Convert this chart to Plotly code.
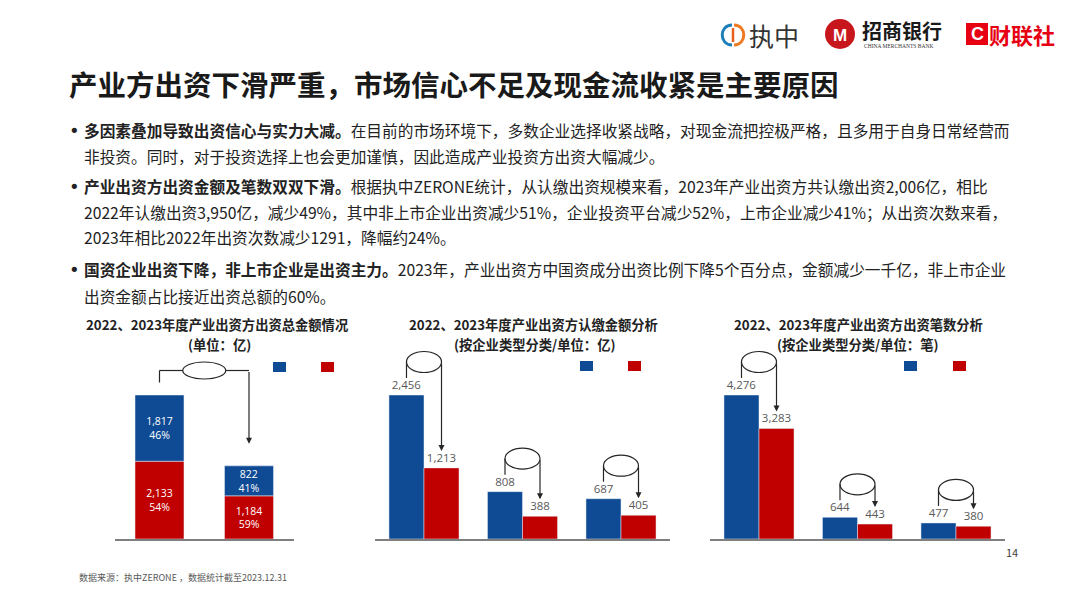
import plotly.graph_objects as go

W, H = 1080, 607

# ---------------- data ----------------
years = ["2022年", "2023年"]
state_amount = [1817, 822]        # blue segment (国资成分)
nonstate_amount = [2133, 1184]    # red segment
types = ["非上市企业", "企业投资平台", "上市企业"]
amount_2022 = [2456, 808, 687]
amount_2023 = [1213, 388, 405]
count_2022 = [4276, 644, 477]
count_2023 = [3283, 443, 380]

BLUE = "#0F4A94"
RED = "#C00000"
LC = "#262626"
CJK = "Noto Sans CJK SC"
NUM = "Open Sans"

totals = [a + b for a, b in zip(state_amount, nonstate_amount)]

# ---------------- geometry helpers ----------------
BASE_PX, TOP_PX = 539, 395
CH = {
    1: dict(x0=114.75, x1=293.75, n=len(years), vmax=max(totals)),
    2: dict(x0=374.75, x1=670.25, n=len(types), vmax=max(amount_2022 + amount_2023)),
    3: dict(x0=709.75, x1=1005.25, n=len(types), vmax=max(count_2022 + count_2023)),
}
GW = 0.3555   # width of each grouped bar (category units)
SW = 0.547    # width of stacked bar


def xp(px):
    return px / W


def yp(py):
    return 1 - py / H


def cat_px(c, i, off=0.0):
    g = CH[c]
    w = (g["x1"] - g["x0"]) / g["n"]
    return g["x0"] + (i + 0.5 + off) * w


def val_px(c, v):
    return BASE_PX - v / CH[c]["vmax"] * (BASE_PX - TOP_PX)


fig = go.Figure()

# chart 1: stacked
pct_n = [f"{v:,}<br>{round(v / t * 100)}%" for v, t in zip(nonstate_amount, totals)]
pct_s = [f"{v:,}<br>{round(v / t * 100)}%" for v, t in zip(state_amount, totals)]
fig.add_trace(go.Bar(x=years, y=nonstate_amount, base=[0] * len(years), width=SW, offset=-SW / 2,
                     marker_color=RED, text=pct_n, texttemplate="%{text}", textposition="inside",
                     insidetextanchor="middle", textangle=0,
                     textfont=dict(color="white", size=10.5, family=NUM),
                     xaxis="x", yaxis="y", name="非国资"))
fig.add_trace(go.Bar(x=years, y=state_amount, base=nonstate_amount, width=SW, offset=-SW / 2,
                     marker_color=BLUE, text=pct_s, texttemplate="%{text}", textposition="inside",
                     insidetextanchor="middle", textangle=0,
                     textfont=dict(color="white", size=10.5, family=NUM),
                     xaxis="x", yaxis="y", name="国资"))

# charts 2 & 3: grouped
for ax, a, b in [("2", amount_2022, amount_2023), ("3", count_2022, count_2023)]:
    for vals, col, off, nm in [(a, BLUE, -GW, "2022年"), (b, RED, 0, "2023年")]:
        fig.add_trace(go.Bar(x=types, y=vals, width=GW, offset=off, marker_color=col,
                             text=[f"{v:,}" for v in vals], texttemplate="%{text}",
                             textposition="outside", cliponaxis=False,
                             textfont=dict(color="#595959", size=11.5, family=NUM),
                             xaxis="x" + ax, yaxis="y" + ax, name=nm))

ydom = [yp(BASE_PX), yp(TOP_PX)]
axis_common = dict(showticklabels=False, ticks="", showgrid=False, zeroline=False,
                   showline=True, linecolor="#7F7F7F", linewidth=1.5, fixedrange=True)
layout_axes = {}
for c in (1, 2, 3):
    sfx = "" if c == 1 else str(c)
    g = CH[c]
    layout_axes["xaxis" + sfx] = dict(domain=[xp(g["x0"]), xp(g["x1"])], anchor="y" + sfx,
                                      range=[-0.5, g["n"] - 0.5], **axis_common)
    layout_axes["yaxis" + sfx] = dict(domain=ydom, anchor="x" + sfx, range=[0, g["vmax"]],
                                      visible=False, fixedrange=True)

shapes = []
annotations = []


def line(x0, y0, x1, y1, color=LC, width=1.2):
    shapes.append(dict(type="line", xref="paper", yref="paper", x0=xp(x0), y0=yp(y0),
                       x1=xp(x1), y1=yp(y1), line=dict(color=color, width=width)))


def ellipse(cx, cy, w, h):
    shapes.append(dict(type="circle", xref="paper", yref="paper", x0=xp(cx - w / 2), x1=xp(cx + w / 2),
                       y0=yp(cy + h / 2), y1=yp(cy - h / 2), line=dict(color=LC, width=1.2),
                       fillcolor="rgba(0,0,0,0)"))


def arrow(x, ytip, ytail):
    annotations.append(dict(x=xp(x), y=yp(ytip), xref="paper", yref="paper", text="", showarrow=True,
                            ax=0, ay=ytail - ytip, arrowhead=2, arrowsize=1, arrowwidth=1.2,
                            arrowcolor=LC, standoff=0))


def rect(x0, y0, x1, y1, color):
    shapes.append(dict(type="rect", xref="paper", yref="paper", x0=xp(x0), x1=xp(x1),
                       y0=yp(y1), y1=yp(y0), fillcolor=color, line=dict(width=0)))


def text(x, y, s, size, color="#222222", family=CJK, xanchor="left", **kw):
    annotations.append(dict(x=xp(x), y=yp(y), xref="paper", yref="paper", text=s, showarrow=False,
                            xanchor=xanchor, yanchor="middle", font=dict(size=size, color=color, family=family), **kw))


# chart 1 bracket
x1c, x2c = cat_px(1, 0), cat_px(1, 1)
t1, t2 = val_px(1, totals[0]), val_px(1, totals[1])
hy = t1 - 24.5
mx = (x1c + x2c) / 2
ellipse(mx, hy, 43, 17)
line(x1c, hy, mx - 21.5, hy)
line(mx + 21.5, hy, x2c, hy)
line(x1c, hy, x1c, hy + 12)
arrow(x2c, t2 - 22, hy)

# charts 2 & 3 loops
for c, a, b in [(2, amount_2022, amount_2023), (3, count_2022, count_2023)]:
    for i in range(len(a)):
        bx = cat_px(c, i, -GW / 2)
        rx = cat_px(c, i, GW / 2)
        by = val_px(c, a[i])
        ry = val_px(c, b[i])
        ey = by - 33
        ellipse((bx + rx) / 2, ey, rx - bx, 21)
        line(bx, ey, bx, by - 17)
        arrow(rx, ry - 17, ey)

# legend squares (no labels, as in reference)
for bx0, rx0, y0 in [(273, 321, 362), (580, 628, 361), (904, 953, 361)]:
    rect(bx0, y0, bx0 + 13, y0 + 10, BLUE)
    rect(rx0, y0, rx0 + 13, y0 + 10, RED)

# chart titles (two lines each)
for cx1, cx2, l1, l2 in [
    (217, 219, "2022、2023年度产业出资方出资总金额情况", "(单位：亿)"),
    (533, 534, "2022、2023年度产业出资方认缴金额分析", "(按企业类型分类/单位：亿)"),
    (858, 857, "2022、2023年度产业出资方出资笔数分析", "(按企业类型分类/单位：笔)"),
]:
    text(cx1, 325, f"<b>{l1}</b>", 13.3, xanchor="center")
    text(cx2, 344, f"<b>{l2}</b>", 13.3, xanchor="center")

# main title
text(67, 84, "<b>产业方出资下滑严重，市场信心不足及现金流收紧是主要原因</b>", 28.5, color="#1A1A1A")

# bullet text
lines = [
    (130, True, "<b>多因素叠加导致出资信心与实力大减。</b>在目前的市场环境下，多数企业选择收紧战略，对现金流把控极严格，且多用于自身日常经营而"),
    (156, False, "非投资。同时，对于投资选择上也会更加谨慎，因此造成产业投资方出资大幅减少。"),
    (186, True, "<b>产业出资方出资金额及笔数双双下滑。</b>根据执中ZERONE统计，从认缴出资规模来看，2023年产业出资方共认缴出资2,006亿，相比"),
    (212, False, "2022年认缴出资3,950亿，减少49%，其中非上市企业出资减少51%，企业投资平台减少52%，上市企业减少41%；从出资次数来看，"),
    (238, False, "2023年相比2022年出资次数减少1291，降幅约24%。"),
    (269, True, "<b>国资企业出资下降，非上市企业是出资主力。</b>2023年，产业出资方中国资成分出资比例下降5个百分点，金额减少一千亿，非上市企业"),
    (296, False, "出资金额占比接近出资总额的60%。"),
]
for y, bullet, s in lines:
    if bullet:
        text(67, y, "•", 18, color="#222222", family="DejaVu Sans")
    text(82, y, s, 15.7, color="#222222")

# footer and page number
text(77, 577, "数据来源：执中ZERONE ，数据统计截至2023.12.31", 9, color="#595959")
text(1012, 552, "14", 11, color="#404040", xanchor="center")

# ---- logos ----
shapes.append(dict(type="path", xref="paper", yref="paper", xsizemode="pixel", ysizemode="pixel",
                   xanchor=xp(733), yanchor=yp(35), path="M -1,10 C -14,10 -14,-10 -1,-10",
                   line=dict(color="#1E7FB8", width=3)))
shapes.append(dict(type="path", xref="paper", yref="paper", xsizemode="pixel", ysizemode="pixel",
                   xanchor=xp(733), yanchor=yp(35), path="M 1,10 C 14,10 14,-10 1,-10",
                   line=dict(color="#EE7A22", width=3)))
line(733, 28, 733, 42, color="#E8601C", width=2.5)
text(747, 35, "执中", 25, color="#333333")

shapes.append(dict(type="circle", xref="paper", yref="paper", x0=xp(825), x1=xp(855),
                   y0=yp(49), y1=yp(19), fillcolor="#C8161D", line=dict(width=0)))
text(840, 35, "<b>M</b>", 17, color="white", family="Liberation Sans", xanchor="center")
text(860, 30, "<b>招商银行</b>", 20, color="#1A1A1A")
text(862, 46, "CHINA MERCHANTS BANK", 5.5, color="#333333", family="Liberation Serif")

rect(966, 23, 988, 45, "#E60012")
text(977, 34, "<b>C</b>", 18, color="white", family="Liberation Sans", xanchor="center")
text(987, 34, "<b>财联社</b>", 22, color="#E60012")

fig.update_layout(width=W, height=H, autosize=False, margin=dict(l=0, r=0, t=0, b=0, pad=0),
                  paper_bgcolor="white", plot_bgcolor="white", showlegend=False,
                  barmode="overlay", font=dict(family=CJK), shapes=shapes, annotations=annotations,
                  uniformtext=dict(minsize=10.5, mode="show"),
                  **layout_axes)

fig.write_html("out.html", config={"displayModeBar": False, "staticPlot": True},
               post_script="document.body.style.margin='0';document.body.style.overflow='hidden';")
